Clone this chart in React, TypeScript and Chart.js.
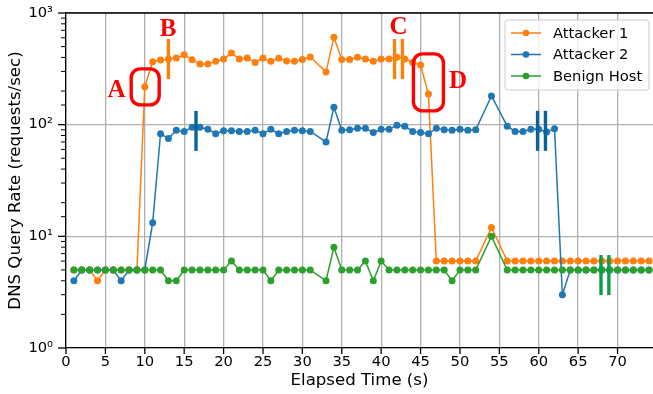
import React, { useEffect, useRef } from 'react';
import { Chart, registerables } from 'chart.js';
Chart.register(...registerables);

const times = [1, 2, 3, 4, 5, 6, 7, 8, 9, 10, 11, 12, 13, 14, 15, 16, 17, 18, 19, 20, 21, 22, 23, 24, 25, 26, 27, 28, 29, 30, 31,
  33, 34, 35, 36, 37, 38, 39, 40, 41, 42, 43, 44, 45, 46, 47, 48, 49, 50, 51, 52,
  54,
  56, 57, 58, 59, 60, 61, 62, 63, 64, 65, 66, 67, 68, 69, 70, 71, 72, 73, 74];

const attacker1 = [5, 5, 5, 4, 5, 5, 5, 5, 5, 218, 366, 379, 387, 395, 423, 382, 349, 349, 369, 387, 438, 387, 395, 361, 395, 369, 393, 372, 369, 383, 403,
  297, 606, 383, 383, 401, 387, 369, 387, 387, 401, 387, 361, 342, 188, 6, 6, 6, 6, 6, 6,
  12,
  6, 6, 6, 6, 6, 6, 6, 6, 6, 6, 6, 6, 6, 6, 6, 6, 6, 6, 6];

const attacker2 = [4, 5, 5, 5, 5, 5, 4, 5, 5, 5, 13.2, 83, 75, 89, 87, 95, 95, 91, 83, 88, 88, 87, 87, 89, 83, 91, 83, 87, 89, 88, 87,
  70, 143, 89, 90, 93, 93, 85, 91, 91, 99, 97, 87, 85, 83, 93, 90, 89, 91, 89, 90,
  181,
  97, 87, 87, 91, 91, 86, 92, 3, 5, 5, 5, 5, 5, 5, 5, 5, 5, 5, 5];

const benign = [5, 5, 5, 5, 5, 5, 5, 5, 5, 5, 5, 5, 4, 4, 5, 5, 5, 5, 5, 5, 6, 5, 5, 5, 5, 4, 5, 5, 5, 5, 5,
  4, 8, 5, 5, 5, 6, 4, 6, 5, 5, 5, 5, 5, 5, 5, 5, 4, 5, 5, 5,
  10,
  5, 5, 5, 5, 5, 5, 5, 5, 5, 5, 5, 5, 5, 5, 5, 5, 5, 5, 5];

const seriesNames = ['Attacker 1', 'Attacker 2', 'Benign Host'];
const seriesColors = ['#ff7f0e', '#1f77b4', '#2ca02c'];

const xTicks = [0, 5, 10, 15, 20, 25, 30, 35, 40, 45, 50, 55, 60, 65, 70];
const yDecades = [1, 10, 100, 1000];
const yDecadeLabels = ['10\u2070', '10\u00b9', '10\u00b2', '10\u00b3'];

// annotation anchors (data coordinates)
const orangeMarkTimes = [13, 41.7, 42.7];
const orangeMarkRate = 387;
const blueMarkTimes = [16.5, 59.85, 60.85];
const blueMarkRate = 88;
const greenMarkTimes = [67.9, 68.9];
const greenMarkRate = 4.5;
const boxTimes = [10.05, 46.0];
const boxRates = [218, 239];
const calloutLabels = ['A', 'B', 'C', 'D'];
const calloutTimes = [6.4, 12.95, 42.2, 49.75];
const calloutRates = [208, 727, 750, 250];

const FONT = '"DejaVu Sans", sans-serif';

function rrect(ctx: CanvasRenderingContext2D, x: number, y: number, w: number, h: number, r: number) {
  ctx.beginPath();
  ctx.moveTo(x + r, y);
  ctx.lineTo(x + w - r, y);
  ctx.arcTo(x + w, y, x + w, y + r, r);
  ctx.lineTo(x + w, y + h - r);
  ctx.arcTo(x + w, y + h, x + w - r, y + h, r);
  ctx.lineTo(x + r, y + h);
  ctx.arcTo(x, y + h, x, y + h - r, r);
  ctx.lineTo(x, y + r);
  ctx.arcTo(x, y, x + r, y, r);
  ctx.closePath();
}

const overlay = {
  id: 'overlay',
  afterLayout(chart: any) {
    // let the plot area run to the canvas' right edge (the figure is cropped there)
    const R = chart.width;
    const ca = chart.chartArea;
    ca.right = R;
    ca.width = R - ca.left;
    const xs = chart.scales.x;
    xs.right = R;
    xs.width = R - xs.left;
    xs.configure();
  },
  afterDatasetsDraw(chart: any) {
    const { ctx } = chart;
    const xs = chart.scales.x;
    const ys = chart.scales.y;
    ctx.save();
    const bars = (ts: number[], rate: number, color: string) => {
      ctx.fillStyle = color;
      ts.forEach((t) => {
        const px = xs.getPixelForValue(t);
        const py = ys.getPixelForValue(rate);
        ctx.fillRect(px - 1.7, py - 20, 3.4, 40);
      });
    };
    bars(orangeMarkTimes, orangeMarkRate, '#f9820c');
    bars(blueMarkTimes, blueMarkRate, '#0a6396');
    bars(greenMarkTimes, greenMarkRate, '#0f9a4c');

    const boxSizes = [[28, 36], [30, 57]];
    ctx.strokeStyle = '#ff0000';
    ctx.lineWidth = 3.4;
    boxTimes.forEach((t, i) => {
      const px = xs.getPixelForValue(t);
      const py = ys.getPixelForValue(boxRates[i]);
      const [w, h] = boxSizes[i];
      rrect(ctx, px - w / 2, py - h / 2, w, h, 9);
      ctx.stroke();
    });

    ctx.fillStyle = '#ff0000';
    ctx.font = 'bold 25px "Liberation Serif", "DejaVu Serif", serif';
    ctx.textAlign = 'center';
    ctx.textBaseline = 'middle';
    calloutLabels.forEach((s, i) => {
      ctx.fillText(s, xs.getPixelForValue(calloutTimes[i]), ys.getPixelForValue(calloutRates[i]) + 1);
    });
    ctx.restore();
  },
  afterDraw(chart: any) {
    const { ctx, chartArea } = chart;
    const xs = chart.scales.x;
    const ys = chart.scales.y;
    ctx.save();
    // top spine
    ctx.strokeStyle = '#000';
    ctx.lineWidth = 1.3;
    ctx.beginPath();
    ctx.moveTo(chartArea.left, chartArea.top);
    ctx.lineTo(chartArea.right, chartArea.top);
    ctx.stroke();
    // x ticks
    xs.ticks.forEach((tk: any) => {
      const px = xs.getPixelForValue(tk.value);
      ctx.beginPath();
      ctx.moveTo(px, chartArea.bottom);
      ctx.lineTo(px, chartArea.bottom + 6);
      ctx.stroke();
    });
    // y ticks
    ys.ticks.forEach((tk: any) => {
      const v = tk.value;
      const major = yDecades.some((d) => Math.abs(d - v) < 1e-9);
      const py = ys.getPixelForValue(v);
      ctx.lineWidth = major ? 1.3 : 1;
      ctx.beginPath();
      ctx.moveTo(chartArea.left, py);
      ctx.lineTo(chartArea.left - (major ? 8 : 5), py);
      ctx.stroke();
    });

    // legend
    const lw = 144, lh = 70;
    const lx = chartArea.right - 4 - lw;
    const ly = chartArea.top + 7;
    rrect(ctx, lx, ly, lw, lh, 3);
    ctx.fillStyle = 'rgba(255,255,255,0.8)';
    ctx.fill();
    ctx.strokeStyle = '#cccccc';
    ctx.lineWidth = 1;
    ctx.stroke();
    ctx.font = '14.7px ' + FONT;
    ctx.textAlign = 'left';
    ctx.textBaseline = 'middle';
    chart.data.datasets.forEach((ds: any, i: number) => {
      const cy = ly + 13 + i * 21.5;
      ctx.strokeStyle = ds.borderColor;
      ctx.lineWidth = 1.5;
      ctx.beginPath();
      ctx.moveTo(lx + 6, cy);
      ctx.lineTo(lx + 36, cy);
      ctx.stroke();
      ctx.fillStyle = ds.borderColor;
      ctx.beginPath();
      ctx.arc(lx + 21, cy, 3.3, 0, Math.PI * 2);
      ctx.fill();
      ctx.fillStyle = '#000';
      ctx.fillText(ds.label, lx + 48, cy + 1);
    });
    ctx.restore();
  },
};

export default function App() {
  const ref = useRef<HTMLCanvasElement>(null);
  useEffect(() => {
    document.body.style.margin = '0';
    const series = [attacker1, attacker2, benign];
    const chart = new Chart(ref.current!, {
      type: 'line',
      data: {
        datasets: series.map((vals, i) => ({
          label: seriesNames[i],
          data: times.map((t, j) => ({ x: t, y: vals[j] })),
          borderColor: seriesColors[i],
          backgroundColor: seriesColors[i],
          pointBackgroundColor: seriesColors[i],
          pointBorderWidth: 0,
          pointRadius: 3.5,
          borderWidth: 1.5,
          tension: 0,
          order: 3 - i,
        })),
      },
      options: {
        animation: false,
        responsive: false,
        events: [],
        layout: { padding: { top: 13, left: 0, right: 0, bottom: 0 } },
        plugins: { legend: { display: false }, tooltip: { enabled: false } },
        scales: {
          x: {
            type: 'linear',
            min: 0,
            max: 74.5,
            afterBuildTicks: (s: any) => { s.ticks = xTicks.map((v) => ({ value: v })); },
            afterFit: (s: any) => { s.height = 46; s.paddingLeft = 0; s.paddingRight = 0; },
            grid: { color: '#b0b0b0', lineWidth: 1.3, drawTicks: false },
            border: { color: '#000', width: 1.3 },
            ticks: { color: '#000', font: { family: FONT, size: 14.7 }, padding: 5, maxRotation: 0, autoSkip: false },
            title: { display: true, text: 'Elapsed Time (s)', color: '#000', font: { family: FONT, size: 16.6 }, padding: { top: 0, bottom: 3 } },
          },
          y: {
            type: 'logarithmic',
            min: 1,
            max: 1000,
            afterFit: (s: any) => { s.width = 66; s.paddingTop = 0; s.paddingBottom = 0; },
            grid: {
              color: (c: any) => (yDecades.some((d) => Math.abs(d - c.tick?.value) < 1e-9) ? '#b0b0b0' : 'rgba(0,0,0,0)'),
              lineWidth: 1.3,
              drawTicks: false,
            },
            border: { color: '#000', width: 1.3 },
            ticks: {
              color: '#000',
              font: { family: FONT, size: 14.7 },
              padding: 13,
              autoSkip: false,
              callback: (v: any) => {
                const k = yDecades.findIndex((d) => Math.abs(d - v) < 1e-9);
                return k >= 0 ? yDecadeLabels[k] : '';
              },
            },
            title: { display: true, text: 'DNS Query Rate (requests/sec)', color: '#000', font: { family: FONT, size: 16.6 }, padding: { top: 6, bottom: 8 } },
          },
        },
      },
      plugins: [overlay],
    } as any);
    return () => chart.destroy();
  }, []);
  return (
    <div style={{ width: 653, height: 394, position: 'relative' }}>
      <canvas ref={ref} width={653} height={394} style={{ width: 653, height: 394, display: 'block' }} />
    </div>
  );
}
